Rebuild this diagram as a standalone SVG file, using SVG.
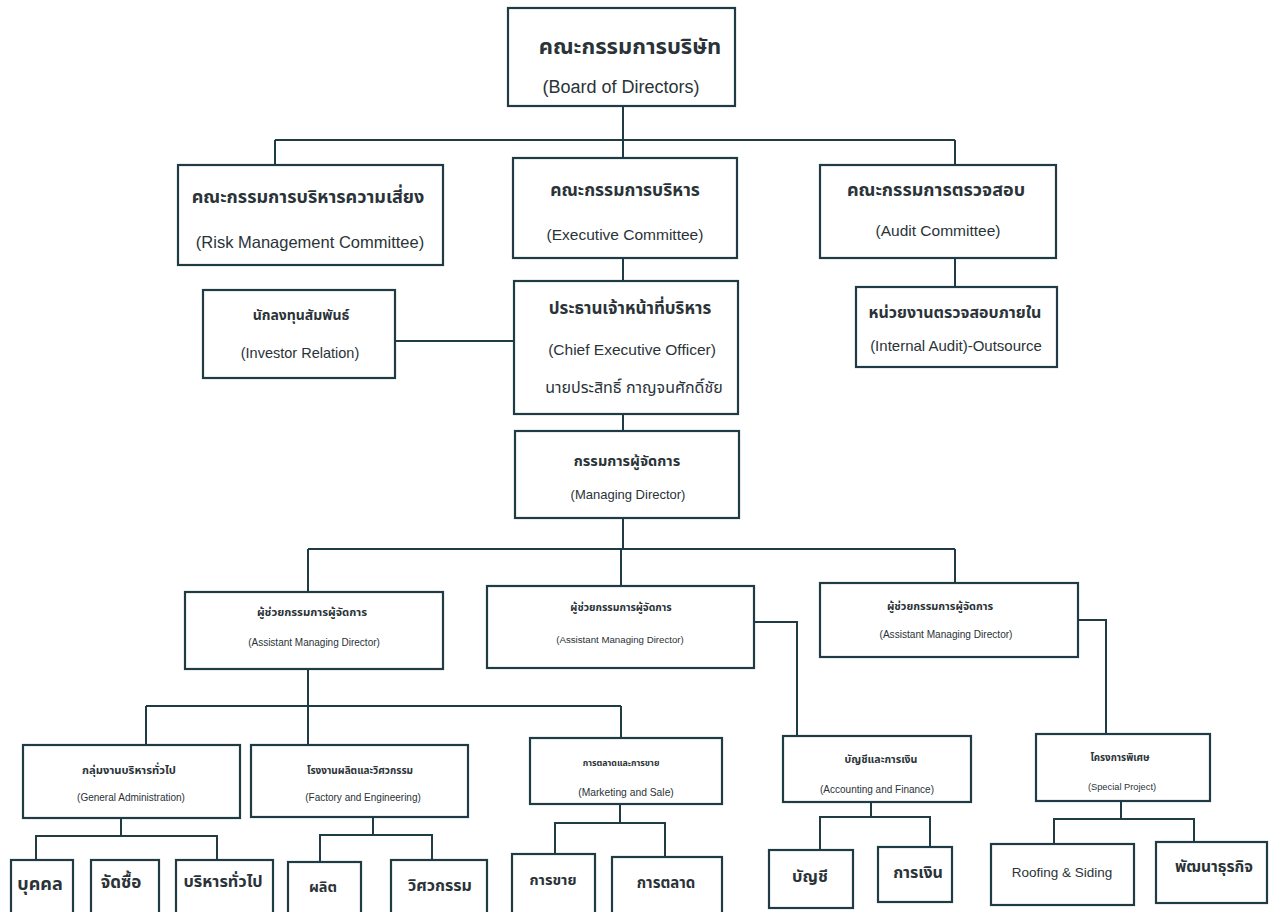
<svg xmlns="http://www.w3.org/2000/svg" width="1272" height="912" viewBox="0 0 1272 912">
<style>
.b{fill:#fff;stroke:#1f3b44;stroke-width:2.2}
.c{fill:none;stroke:#1f3b44;stroke-width:2}
text{font-family:"Liberation Sans Narrow","Liberation Sans","Noto Sans Thai","Noto Sans",sans-serif;fill:#2a3338;text-anchor:middle}
.t{font-weight:bold}
</style>
<rect width="1272" height="912" fill="#fff"/>
<g id="connectors">
<path class="c" d="M623 106V140M275 140H955M275 140V165M623 140V158M955 140V165"/>
<path class="c" d="M955 258V287M623 258V281M395 341H514M623 414V431M623 518V549M308 549H955M308 549V592M621 549V586M955 549V583"/>
<path class="c" d="M754 622H797V737M1078 620H1106V734"/>
<path class="c" d="M308 669V706M146 706H621M146 706V745M308 706V745M621 706V738"/>
<path class="c" d="M121 818V836H36V860M121 836H217V860"/>
<path class="c" d="M373 817V835H320V862M373 835H432V860"/>
<path class="c" d="M620 804V823H555V854M620 823H665V857"/>
<path class="c" d="M871 802V817H820V850M871 817H930V847"/>
<path class="c" d="M1121 801V819H1054V844M1121 819H1194V842"/>
</g>
<g id="board"><rect class="b" x="508" y="8" width="227" height="98"/><text class="t" x="630" y="54" font-size="22">คณะกรรมการบริษัท</text><text x="621" y="93" font-size="18">(Board of Directors)</text></g>
<g id="risk"><rect class="b" x="178" y="165" width="265" height="100"/><text class="t" x="308" y="203" font-size="18">คณะกรรมการบริหารความเสี่ยง</text><text x="310" y="248" font-size="16.5">(Risk Management Committee)</text></g>
<g id="exec"><rect class="b" x="513" y="158" width="224" height="100"/><text class="t" x="625" y="196" font-size="17.5">คณะกรรมการบริหาร</text><text x="625" y="240" font-size="15.5">(Executive Committee)</text></g>
<g id="audit"><rect class="b" x="820" y="165" width="236" height="93"/><text class="t" x="936" y="196" font-size="18">คณะกรรมการตรวจสอบ</text><text x="938" y="236" font-size="15.5">(Audit Committee)</text></g>
<g id="investor"><rect class="b" x="203" y="290" width="192" height="88"/><text class="t" x="301" y="320" font-size="14">นักลงทุนสัมพันธ์</text><text x="300" y="358" font-size="14.5">(Investor Relation)</text></g>
<g id="ceo"><rect class="b" x="514" y="281" width="224" height="133"/><text class="t" x="630" y="314" font-size="17">ประธานเจ้าหน้าที่บริหาร</text><text x="632" y="355" font-size="15.5">(Chief Executive Officer)</text><text x="634" y="393" font-size="16">นายประสิทธิ์ กาญจนศักดิ์ชัย</text></g>
<g id="internal"><rect class="b" x="856" y="287" width="201" height="80"/><text class="t" x="955" y="318" font-size="16">หน่วยงานตรวจสอบภายใน</text><text x="956" y="351" font-size="15">(Internal Audit)-Outsource</text></g>
<g id="md"><rect class="b" x="515" y="431" width="224" height="87"/><text class="t" x="627" y="466" font-size="14.5">กรรมการผู้จัดการ</text><text x="628" y="499" font-size="13">(Managing Director)</text></g>
<g id="amd1"><rect class="b" x="185" y="592" width="258" height="77"/><text class="t" x="312" y="616" font-size="11.3">ผู้ช่วยกรรมการผู้จัดการ</text><text x="314" y="646" font-size="10">(Assistant Managing Director)</text></g>
<g id="amd2"><rect class="b" x="487" y="586" width="267" height="82"/><text class="t" x="621" y="611" font-size="10.4">ผู้ช่วยกรรมการผู้จัดการ</text><text x="620" y="643" font-size="9.7">(Assistant Managing Director)</text></g>
<g id="amd3"><rect class="b" x="820" y="583" width="258" height="74"/><text class="t" x="940" y="610" font-size="10.9">ผู้ช่วยกรรมการผู้จัดการ</text><text x="946" y="638" font-size="10.1">(Assistant Managing Director)</text></g>
<g id="ga"><rect class="b" x="23" y="745" width="217" height="73"/><text class="t" x="129" y="774" font-size="11.2">กลุ่มงานบริหารทั่วไป</text><text x="131" y="801" font-size="10">(General Administration)</text></g>
<g id="factory"><rect class="b" x="251" y="745" width="217" height="72"/><text class="t" x="360" y="774" font-size="10">โรงงานผลิตและวิศวกรรม</text><text x="363" y="801" font-size="10">(Factory and Engineering)</text></g>
<g id="marketing"><rect class="b" x="530" y="738" width="192" height="66"/><text class="t" x="621" y="766" font-size="8.8">การตลาดและการขาย</text><text x="626" y="796" font-size="10.3">(Marketing and Sale)</text></g>
<g id="accounting"><rect class="b" x="783" y="736" width="188" height="66"/><text class="t" x="881" y="763" font-size="10.6">บัญชีและการเงิน</text><text x="877" y="793" font-size="10">(Accounting and Finance)</text></g>
<g id="special"><rect class="b" x="1036" y="734" width="174" height="67"/><text class="t" x="1120" y="761" font-size="9.8">โครงการพิเศษ</text><text x="1122" y="790" font-size="9.3">(Special Project)</text></g>
<g id="person"><rect class="b" x="11" y="860" width="62" height="60"/><text class="t" x="40" y="890" font-size="18">บุคคล</text></g>
<g id="purchase"><rect class="b" x="91" y="860" width="68" height="60"/><text class="t" x="121" y="888" font-size="17">จัดซื้อ</text></g>
<g id="admin"><rect class="b" x="176" y="860" width="97" height="60"/><text class="t" x="223" y="887" font-size="16.3">บริหารทั่วไป</text></g>
<g id="produce"><rect class="b" x="288" y="862" width="73" height="60"/><text class="t" x="323" y="892" font-size="14.5">ผลิต</text></g>
<g id="engineer"><rect class="b" x="391" y="860" width="96" height="60"/><text class="t" x="440" y="891" font-size="16">วิศวกรรม</text></g>
<g id="sale"><rect class="b" x="512" y="854" width="83" height="66"/><text class="t" x="553" y="885" font-size="14.6">การขาย</text></g>
<g id="market"><rect class="b" x="612" y="857" width="110" height="63"/><text class="t" x="666" y="888" font-size="15">การตลาด</text></g>
<g id="acc"><rect class="b" x="769" y="850" width="84" height="58"/><text class="t" x="810" y="882" font-size="16.5">บัญชี</text></g>
<g id="finance"><rect class="b" x="878" y="847" width="74" height="55"/><text class="t" x="918" y="878" font-size="16">การเงิน</text></g>
<g id="roofing"><rect class="b" x="991" y="844" width="143" height="61"/><text x="1062" y="877" font-size="13.5">Roofing &amp; Siding</text></g>
<g id="bizdev"><rect class="b" x="1156" y="842" width="111" height="61"/><text class="t" x="1214" y="872" font-size="15.6">พัฒนาธุรกิจ</text></g>
</svg>
